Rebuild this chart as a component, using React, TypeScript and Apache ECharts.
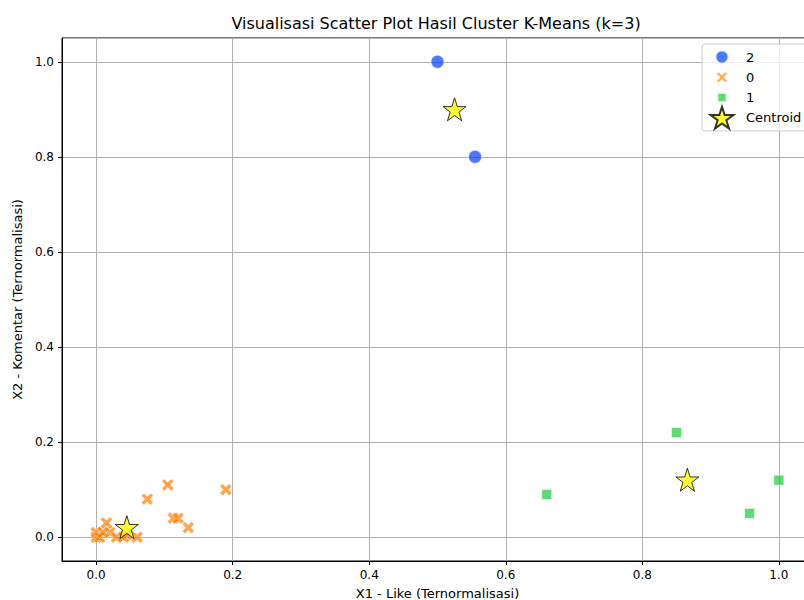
import React, { useEffect, useRef } from "react";
import * as echarts from "echarts";

const cluster2: [number, number][] = [
  [0.5, 1.0],
  [0.555, 0.8],
];
const cluster0: [number, number][] = [
  [0.0, 0.0],
  [0.0, 0.01],
  [0.005, 0.0],
  [0.01, 0.01],
  [0.015, 0.03],
  [0.02, 0.01],
  [0.03, 0.0],
  [0.04, 0.0],
  [0.045, 0.005],
  [0.06, 0.0],
  [0.075, 0.08],
  [0.105, 0.11],
  [0.113, 0.04],
  [0.12, 0.04],
  [0.135, 0.02],
  [0.19, 0.1],
];
const cluster1: [number, number][] = [
  [0.66, 0.09],
  [0.85, 0.22],
  [0.957, 0.05],
  [1.0, 0.12],
];
const centroids: [number, number][] = [
  [0.525, 0.9],
  [0.045, 0.021],
  [0.866, 0.121],
];
const seriesNames = ["2", "0", "1", "Centroid"];

function starPts(cx: number, cy: number, R: number): string {
  const pts: string[] = [];
  for (let k = 0; k < 10; k++) {
    const r = k % 2 === 0 ? R : R * 0.382;
    const a = ((-90 + 36 * k) * Math.PI) / 180;
    pts.push(`${(cx + r * Math.cos(a)).toFixed(2)},${(cy + r * Math.sin(a)).toFixed(2)}`);
  }
  return "M" + pts.join(" L") + " Z";
}
const STAR = "path://" + starPts(50, 50, 50);
const XMARK = "path://M2.2,0 L5,2.8 L7.8,0 L10,2.2 L7.2,5 L10,7.8 L7.8,10 L5,7.2 L2.2,10 L0,7.8 L2.8,5 L0,2.2 Z";

// legend icons padded inside a 24x24 box so they keep their relative sizes
const PAD = "M0,0 M24,24 ";
const LEG_CIRCLE = "path://" + PAD + "M5.5,12 A6.5,6.5 0 1 1 18.5,12 A6.5,6.5 0 1 1 5.5,12 Z";
const LEG_X =
  "path://" + PAD +
  "M8.6,6 L12,9.4 L15.4,6 L18,8.6 L14.6,12 L18,15.4 L15.4,18 L12,14.6 L8.6,18 L6,15.4 L9.4,12 L6,8.6 Z";
const LEG_SQ = "path://" + PAD + "M7.5,7.5 L16.5,7.5 L16.5,16.5 L7.5,16.5 Z";
const LEG_STAR = "path://" + PAD + starPts(12, 12.9, 12);

const FONT = "DejaVu Sans";

export default function App() {
  const ref = useRef<HTMLDivElement>(null);
  useEffect(() => {
    if (!ref.current) return;
    const chart = echarts.init(ref.current, null, { renderer: "svg" });
    const axisCommon = {
      type: "value" as const,
      min: -0.05,
      max: 1.05,
      axisLine: { show: true, onZero: false, lineStyle: { color: "#000", width: 1 } },
      axisTick: { show: true, length: 4, lineStyle: { color: "#000" } },
      splitLine: { show: true, lineStyle: { color: "#b0b0b0", width: 1 } },
      axisLabel: {
        showMinLabel: false,
        showMaxLabel: false,
        color: "#000",
        fontFamily: FONT,
        fontSize: 12,
        margin: 8,
        formatter: (v: number) => v.toFixed(1),
      },
      nameLocation: "middle" as const,
      nameTextStyle: { color: "#000", fontFamily: FONT, fontSize: 13 },
    };
    chart.setOption({
      animation: false,
      backgroundColor: "#fff",
      title: {
        text: "Visualisasi Scatter Plot Hasil Cluster K-Means (k=3)",
        left: "center",
        top: 10,
        textStyle: { color: "#000", fontFamily: FONT, fontSize: 16, fontWeight: "normal" },
      },
      grid: {
        left: 62,
        top: 38,
        right: 59,
        bottom: 39,
        outerBoundsMode: "none",
        containLabel: false,
        show: true,
        borderColor: "#000",
        borderWidth: 1,
        backgroundColor: "transparent",
      },
      xAxis: {
        ...axisCommon,
        name: "X1 - Like (Ternormalisasi)",
        nameGap: 26,
      },
      yAxis: {
        ...axisCommon,
        name: "X2 - Komentar (Ternormalisasi)",
        nameGap: 37,
      },
      legend: {
        orient: "vertical",
        left: 702,
        top: 44,
        padding: [0, 8, 0, 7],
        itemWidth: 38,
        itemHeight: 24,
        itemGap: -5.7,
        backgroundColor: "rgba(255,255,255,0.8)",
        borderColor: "#cccccc",
        borderWidth: 1,
        borderRadius: 3,
        textStyle: { color: "#000", fontFamily: FONT, fontSize: 13 },
        data: [
          { name: seriesNames[0], icon: LEG_CIRCLE },
          { name: seriesNames[1], icon: LEG_X },
          { name: seriesNames[2], icon: LEG_SQ },
          { name: seriesNames[3], icon: LEG_STAR },
        ],
      },
      series: [
        {
          name: seriesNames[0],
          type: "scatter",
          data: cluster2,
          symbol: "circle",
          symbolSize: 13,
          itemStyle: { color: "#023eff", opacity: 0.7, borderColor: "#fff", borderWidth: 0.8 },
          z: 3,
        },
        {
          name: seriesNames[1],
          type: "scatter",
          data: cluster0,
          symbol: XMARK,
          symbolSize: 12,
          itemStyle: { color: "#ff7c00", opacity: 0.7, borderColor: "#fff", borderWidth: 0.6 },
          z: 3,
        },
        {
          name: seriesNames[2],
          type: "scatter",
          data: cluster1,
          symbol: "rect",
          symbolSize: 10,
          itemStyle: { color: "#1ac938", opacity: 0.7, borderColor: "#fff", borderWidth: 0.8 },
          z: 3,
        },
        {
          name: seriesNames[3],
          type: "scatter",
          data: centroids,
          symbol: STAR,
          symbolSize: 23,
          itemStyle: { color: "#ffff00", borderColor: "#000", borderWidth: 1 },
          z: 5,
        },
      ],
    });
    return () => chart.dispose();
  }, []);
  return (
    <div style={{ position: "fixed", left: 0, top: 0, width: 804, height: 600, overflow: "hidden", background: "#fff" }}>
      <div ref={ref} style={{ width: 872, height: 600 }} />
    </div>
  );
}
